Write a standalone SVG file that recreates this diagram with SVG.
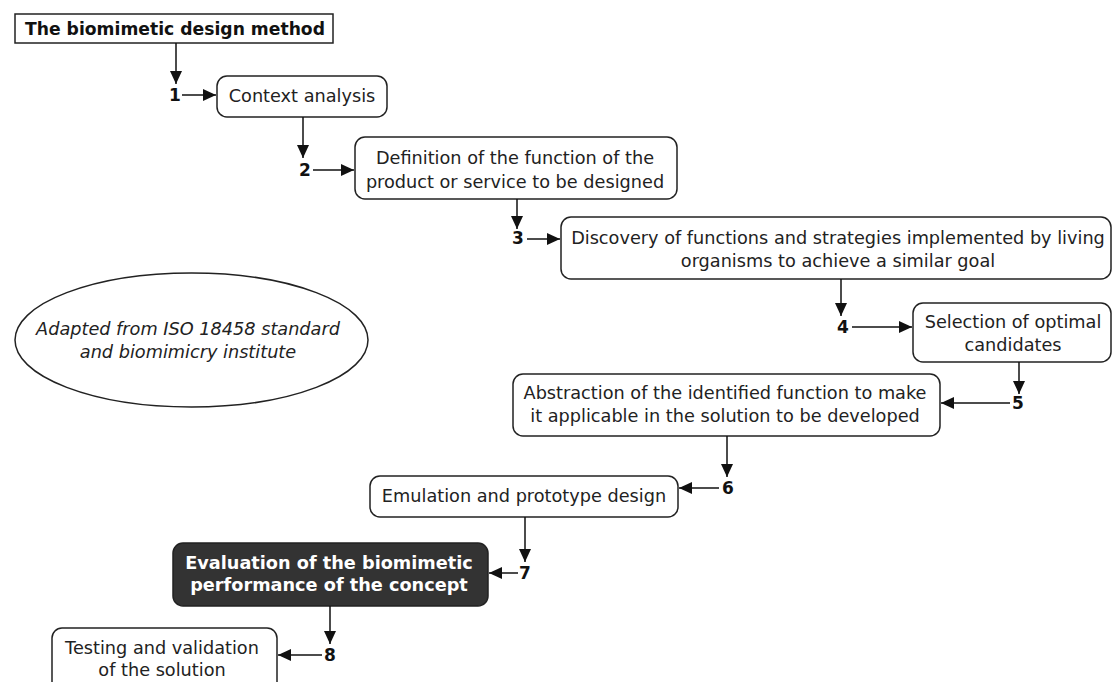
<svg xmlns="http://www.w3.org/2000/svg" width="1114" height="682" viewBox="0 0 1114 682">
<style>
.box{fill:#fff;stroke:#222;stroke-width:1.5}
.t{font-family:"DejaVu Sans","Verdana",sans-serif;font-size:17.7px;fill:#222;text-anchor:middle}
.n{font-family:"DejaVu Sans","Verdana",sans-serif;font-size:17px;font-weight:bold;fill:#111;text-anchor:middle}
.c{stroke:#111;stroke-width:1.5;fill:none;marker-end:url(#ah)}
</style>
<defs>
<marker id="ah" viewBox="0 0 13 12" refX="13" refY="6" markerWidth="13" markerHeight="12" markerUnits="userSpaceOnUse" orient="auto">
<path d="M0,0 L13,6 L0,12 Z" fill="#111"/>
</marker>
</defs>
<rect width="1114" height="682" fill="#fff"/>
<g id="title">
<rect x="15" y="14" width="318" height="29" fill="#fff" stroke="#222" stroke-width="1.5"/>
<text x="175" y="35" class="t" style="font-weight:bold;font-size:17.2px;fill:#111">The biomimetic design method</text>
</g>
<g id="n1"><rect class="box" x="217" y="76" width="170" height="41" rx="10"/><text class="t" x="302" y="102">Context analysis</text></g>
<g id="n2"><rect class="box" x="355" y="137" width="322" height="62" rx="10"/><text class="t" x="515" y="164">Definition of the function of the</text><text class="t" x="515" y="188">product or service to be designed</text></g>
<g id="n3"><rect class="box" x="561" y="217" width="550" height="62" rx="10"/><text class="t" x="838" y="244">Discovery of functions and strategies implemented by living</text><text class="t" x="838" y="267">organisms to achieve a similar goal</text></g>
<g id="n4"><rect class="box" x="913" y="303" width="198" height="59" rx="10"/><text class="t" x="1013" y="328">Selection of optimal</text><text class="t" x="1013" y="351">candidates</text></g>
<g id="n5"><rect class="box" x="513" y="374" width="427" height="62" rx="10"/><text class="t" x="725" y="399">Abstraction of the identified function to make</text><text class="t" x="725" y="422">it applicable in the solution to be developed</text></g>
<g id="n6"><rect class="box" x="370" y="476" width="308" height="41" rx="10"/><text class="t" x="524" y="502">Emulation and prototype design</text></g>
<g id="n7"><rect x="173" y="543" width="315" height="63" rx="10" fill="#333" stroke="#222" stroke-width="1.5"/><text class="t" x="329" y="569" style="fill:#fff;font-weight:bold">Evaluation of the biomimetic</text><text class="t" x="329" y="591" style="fill:#fff;font-weight:bold">performance of the concept</text></g>
<g id="n8"><rect class="box" x="52" y="628" width="225" height="64" rx="10"/><text class="t" x="162" y="654">Testing and validation</text><text class="t" x="162" y="676">of the solution</text></g>
<g id="note"><ellipse cx="191.5" cy="340" rx="176.5" ry="67" fill="#fff" stroke="#222" stroke-width="1.5"/><text class="t" x="188" y="335" style="font-style:italic">Adapted from ISO 18458 standard</text><text class="t" x="188" y="358" style="font-style:italic">and biomimicry institute</text></g>
<g id="labels">
<text class="n" x="175" y="101">1</text>
<text class="n" x="305" y="176">2</text>
<text class="n" x="518" y="244">3</text>
<text class="n" x="843" y="333">4</text>
<text class="n" x="1018" y="409">5</text>
<text class="n" x="728" y="494">6</text>
<text class="n" x="525" y="579">7</text>
<text class="n" x="330" y="661">8</text>
</g>
<g id="connectors">
<path class="c" d="M176,43 V84"/>
<path class="c" d="M182,95 H216"/>
<path class="c" d="M303,117 V158"/>
<path class="c" d="M313,170 H354"/>
<path class="c" d="M517,199 V229"/>
<path class="c" d="M527,239 H560"/>
<path class="c" d="M841,279 V316"/>
<path class="c" d="M852,327 H912"/>
<path class="c" d="M1019,362 V394"/>
<path class="c" d="M1010,403 H941"/>
<path class="c" d="M727,436 V477"/>
<path class="c" d="M719,488 H679"/>
<path class="c" d="M525,517 V562"/>
<path class="c" d="M518,573 H489"/>
<path class="c" d="M330,606 V644"/>
<path class="c" d="M322,655 H278"/>
</g>
</svg>
